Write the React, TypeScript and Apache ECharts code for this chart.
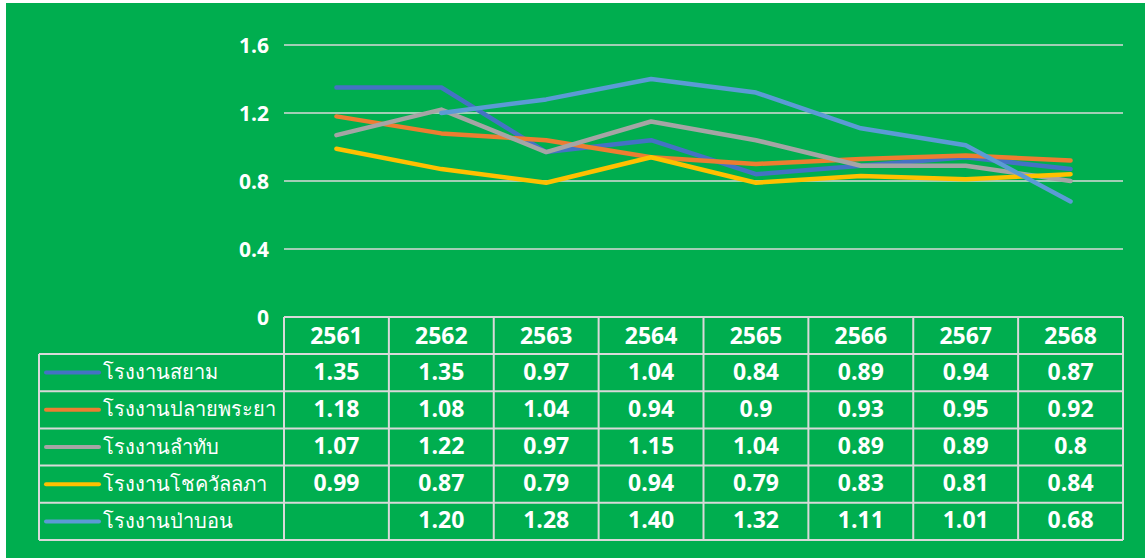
import React, { useEffect, useRef } from "react";
import * as echarts from "echarts";

const years = ["2561", "2562", "2563", "2564", "2565", "2566", "2567", "2568"];
const names = ["โรงงานสยาม", "โรงงานปลายพระยา", "โรงงานลำทับ", "โรงงานโชควัลลภา", "โรงงานป่าบอน"];
const siam = [1.35, 1.35, 0.97, 1.04, 0.84, 0.89, 0.94, 0.87];
const plaiPhraya = [1.18, 1.08, 1.04, 0.94, 0.9, 0.93, 0.95, 0.92];
const lamThap = [1.07, 1.22, 0.97, 1.15, 1.04, 0.89, 0.89, 0.8];
const chokwanlapha = [0.99, 0.87, 0.79, 0.94, 0.79, 0.83, 0.81, 0.84];
const paBon = [null, 1.2, 1.28, 1.4, 1.32, 1.11, 1.01, 0.68];
const colors = ["#4472C4", "#ED7D31", "#A5A5A5", "#FFC000", "#5B9BD5"];
const yTicks = [0, 0.4, 0.8, 1.2, 1.6];

const W = 1145;
const H = 558;
const GL = 284;
const GR = 1123;
const GT = 45;
const GB = 317;
const HEADER_B = 354;
const ROW_H = 37.2;
const LEG_L = 39;
const FONT = "'Open Sans', 'Noto Sans', 'DejaVu Sans', sans-serif";
const BORDER = "#D9D9D9";

export default function App() {
  const ref = useRef<HTMLDivElement>(null);
  useEffect(() => {
    const chart = echarts.init(ref.current!, null, { renderer: "svg" });
    const all = [siam, plaiPhraya, lamThap, chokwanlapha, paBon];
    const colW = (GR - GL) / years.length;
    const g: any[] = [];
    g.push({ type: "rect", z: -10, silent: true, shape: { x: 6, y: 3, width: W - 6, height: H - 3 }, style: { fill: "#00AE4F" } });
    const ln = (x1: number, y1: number, x2: number, y2: number) =>
      g.push({ type: "line", z: 1, shape: { x1, y1, x2, y2 }, style: { stroke: BORDER, lineWidth: 2 } });
    const tableBottom = HEADER_B + ROW_H * names.length;
    ln(GL, GB, GR, GB);
    ln(LEG_L, HEADER_B, GR, HEADER_B);
    for (let r = 1; r <= names.length; r++) ln(LEG_L, HEADER_B + ROW_H * r, GR, HEADER_B + ROW_H * r);
    ln(LEG_L, HEADER_B, LEG_L, tableBottom);
    for (let c = 0; c <= years.length; c++) ln(GL + colW * c, GB, GL + colW * c, tableBottom);
    years.forEach((y, c) => {
      g.push({
        type: "text", z: 2, x: GL + colW * (c + 0.5), y: (GB + HEADER_B) / 2 - 1,
        style: { text: y, fill: "#fff", font: `bold 23px ${FONT}`, align: "center", verticalAlign: "middle" },
      });
    });
    names.forEach((n, r) => {
      const cy = HEADER_B + ROW_H * (r + 0.5);
      g.push({ type: "line", z: 2, shape: { x1: 46, y1: cy, x2: 99, y2: cy }, style: { stroke: colors[r], lineWidth: 4, lineCap: "round" } });
      g.push({ type: "text", z: 2, x: 103, y: cy - 1, style: { text: n, fill: "#fff", font: `20px ${FONT}`, align: "left", verticalAlign: "middle" } });
      all[r].forEach((v, c) => {
        if (v == null) return;
        const txt = r === 4 ? (v as number).toFixed(2) : String(v);
        g.push({
          type: "text", z: 2, x: GL + colW * (c + 0.5), y: cy - 2,
          style: { text: txt, fill: "#fff", font: `bold 23px ${FONT}`, align: "center", verticalAlign: "middle" },
        });
      });
    });

    chart.setOption({
      animation: false,
      backgroundColor: "#ffffff",
      grid: { left: GL, right: W - GR, top: GT, bottom: H - GB, containLabel: false },
      xAxis: {
        type: "category", data: years, boundaryGap: true,
        axisLine: { show: false }, axisTick: { show: false }, axisLabel: { show: false }, splitLine: { show: false },
      },
      yAxis: {
        type: "value", min: yTicks[0], max: yTicks[yTicks.length - 1], interval: 0.4,
        axisLine: { show: false }, axisTick: { show: false },
        axisLabel: {
          color: "#fff", fontWeight: "bold", fontSize: 21, fontFamily: FONT, margin: 15,
          formatter: (v: number) => (v === 0 ? "0" : v.toFixed(1)),
        },
        splitLine: { show: true, lineStyle: { color: BORDER, width: 1.5 } },
      },
      graphic: g,
      series: all.map((d, i) => ({
        type: "line", name: names[i], data: d, symbol: "none", connectNulls: false,
        lineStyle: { color: colors[i], width: 4.5, cap: "round", join: "round" },
        itemStyle: { color: colors[i] }, z: 3 + i,
      })),
    });
    return () => chart.dispose();
  }, []);
  return <div ref={ref} style={{ position: "fixed", left: 0, top: 0, width: W, height: H }} />;
}
